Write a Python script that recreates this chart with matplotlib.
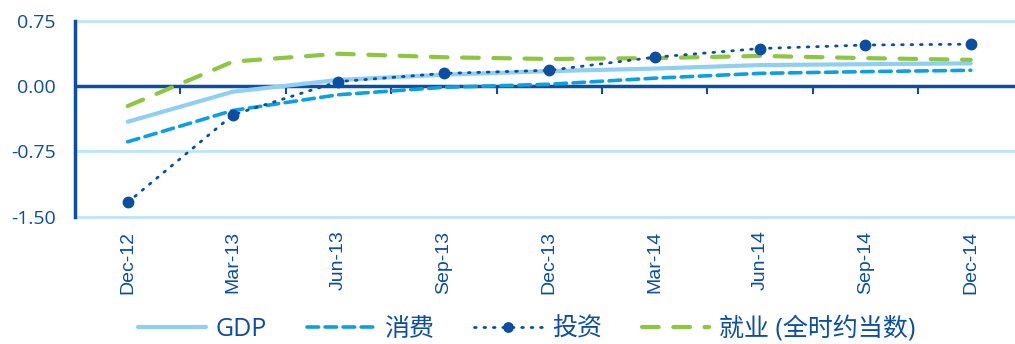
import matplotlib
matplotlib.use("Agg")
import matplotlib.pyplot as plt
import numpy as np

categories = ["Dec-12", "Mar-13", "Jun-13", "Sep-13", "Dec-13", "Mar-14", "Jun-14", "Sep-14", "Dec-14"]
gdp = [-0.41, -0.065, 0.07, 0.13, 0.17, 0.20, 0.24, 0.25, 0.26]
consumption = [-0.64, -0.28, -0.10, -0.015, 0.02, 0.09, 0.145, 0.165, 0.18]
investment = [-1.335, -0.33, 0.05, 0.145, 0.18, 0.33, 0.43, 0.47, 0.48]
employment = [-0.23, 0.28, 0.37, 0.33, 0.31, 0.32, 0.345, 0.32, 0.30]
series_names = ["GDP", "消费", "投资", "就业 (全时约当数)"]
yticks = [0.75, 0.0, -0.75, -1.5]
ytick_labels = ["0.75", "0.00", "-0.75", "-1.50"]

DARK = "#0b4ea2"
LIGHT = "#8fd0f2"
MID = "#0aa0e2"
GREEN = "#8dc63f"
GRID = "#bfe6f8"

plt.rcParams['font.family'] = ['Open Sans', 'Noto Sans CJK SC', 'DejaVu Sans']

fig = plt.figure(figsize=(10.15, 3.44), dpi=100)
ax = fig.add_axes([0.0739, 0.370, 0.9261, 0.570])

x = np.arange(len(categories))
ax.plot(x, gdp, color=LIGHT, lw=3.0, solid_capstyle='round', label=series_names[0], zorder=3)
ax.plot(x, consumption, color=MID, lw=2.6, linestyle=(0, (3.2, 1.8)), dash_capstyle='round',
        label=series_names[1], zorder=4)
ax.plot(x, investment, color=DARK, lw=2.0, linestyle=(0, (0.6, 2.8)), dash_capstyle='round',
        marker='o', markersize=7.5, label=series_names[2], zorder=5)
ax.plot(x, employment, color=GREEN, lw=3.0, linestyle=(0, (4, 3.5)), dash_capstyle='round',
        label=series_names[3], zorder=3)

ax.set_xlim(-0.5, 8.42)
ax.set_ylim(-1.5, 0.75)

ax.set_yticks(yticks)
ax.set_yticklabels(ytick_labels)
ax.tick_params(axis='y', length=0, pad=14, labelsize=14, labelcolor=DARK)
ax.yaxis.grid(True, color=GRID, lw=2.0)
for gl in ax.get_ygridlines():
    gl.set_clip_on(False)
ax.set_axisbelow(True)

ax.set_xticks(x)
ax.set_xticklabels(categories, rotation=90, fontfamily='Liberation Sans', fontsize=14)
ax.tick_params(axis='x', length=0, pad=10, labelcolor=DARK)

for s in ['top', 'right', 'bottom']:
    ax.spines[s].set_visible(False)
ax.spines['left'].set_color(DARK)
ax.spines['left'].set_linewidth(2.5)

# zero axis with boundary tick marks
ax.axhline(0, color=DARK, lw=2.5, zorder=2)
sec = ax.secondary_xaxis(2.0 / 3.0)
sec.set_xticks(np.arange(len(categories) - 1) + 0.5)
sec.set_xticklabels([])
sec.tick_params(axis='x', direction='in', length=6, width=1.5, color=DARK)
for s in sec.spines.values():
    s.set_visible(False)

leg = fig.legend(loc='center', bbox_to_anchor=(527 / 1015, 1 - 329 / 344), ncol=4,
                 frameon=False, fontsize=18, handlelength=2.7, handletextpad=0.4,
                 columnspacing=1.6, markerscale=0.9, borderpad=0.1)
for t in leg.get_texts():
    t.set_color(DARK)

fig.savefig("out.png", dpi=100)
